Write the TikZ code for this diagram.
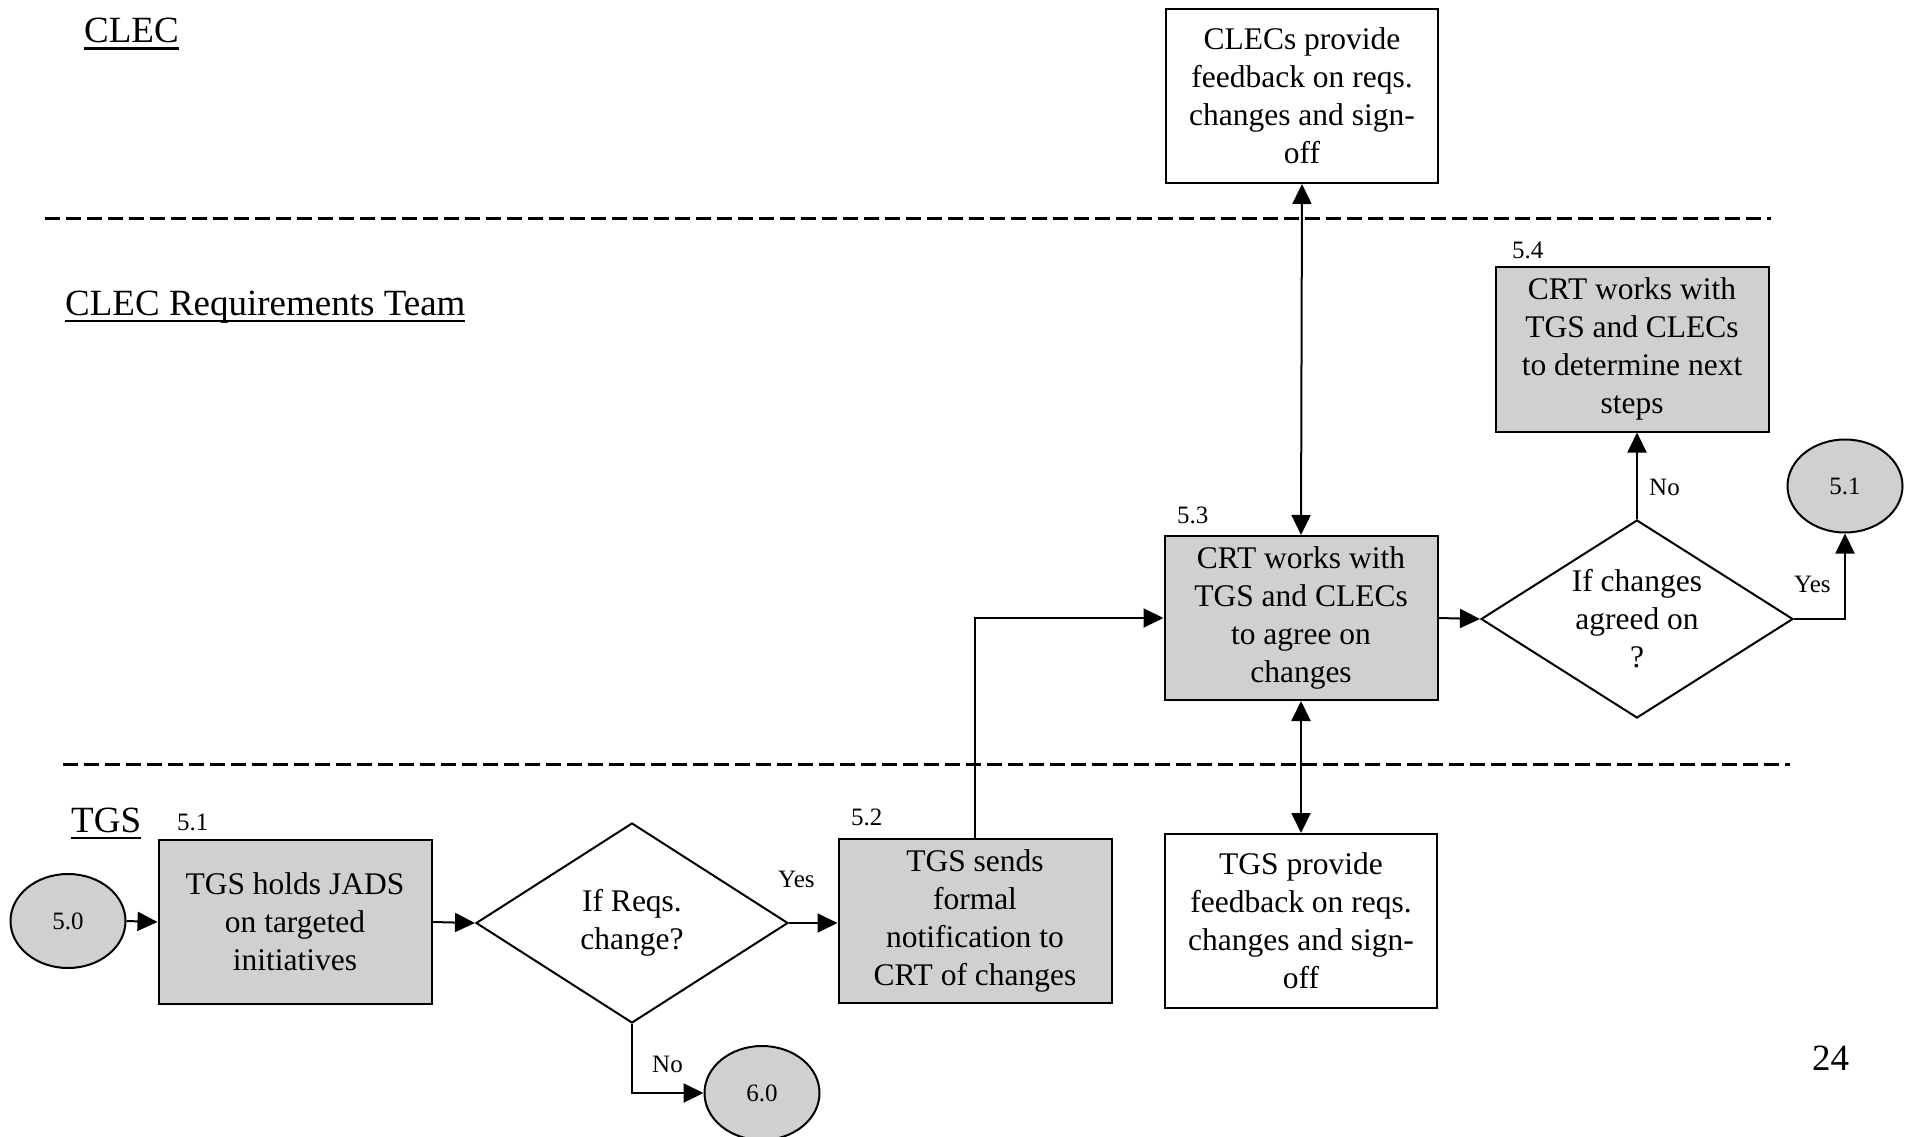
\documentclass[tikz,border=0pt]{standalone}
\usepackage{fontspec}
\setmainfont{Liberation Serif}
\usepackage{tikz}
\usetikzlibrary{shapes.geometric,arrows.meta}
\newcommand\lanetitle[1]{\setbox0\hbox{#1}\rlap{\rule[-7pt]{\wd0}{2.5pt}}\box0}
\definecolor{boxgray}{RGB}{208,208,208}
\tikzstyle{bag} = [align=center, inner sep=0pt, font=\fontsize{31.5}{38}\selectfont]
\tikzstyle{proc} = [bag, rectangle, draw, line width=2pt, fill=boxgray, minimum width=273pt, minimum height=164pt]
\tikzstyle{fbk} = [bag, rectangle, draw, line width=2pt, fill=white, minimum width=272pt, minimum height=174pt]
\tikzstyle{term} = [bag, ellipse, draw, line width=2pt, fill=boxgray, minimum width=115pt, minimum height=94pt, font=\fontsize{25}{30}\selectfont]
\tikzstyle{decide} = [diamond, draw, line width=2pt, minimum width=312pt, minimum height=200pt, inner sep=0pt]
\tikzstyle{num} = [anchor=base west, inner sep=0pt, font=\fontsize{25}{30}\selectfont]
\tikzstyle{lane} = [anchor=base west, inner sep=0pt, font=\fontsize{37}{44}\selectfont]
\tikzstyle{flow} = [line width=2pt, -{Triangle[length=20pt,width=19pt]}]
\tikzstyle{both} = [line width=2pt, {Triangle[length=20pt,width=19pt]}-{Triangle[length=20pt,width=19pt]}]

\begin{document}
\begin{tikzpicture}[x=1pt, y=-1pt]
  \useasboundingbox (0,0) rectangle (1909,1137);

  \draw[line width=3pt, dash pattern=on 15pt off 6pt] (45,218) -- (1771,218);
  \draw[line width=3pt, dash pattern=on 15pt off 6pt] (63,764) -- (1790,764);

  \node[lane] (clec) at (84,43) {\lanetitle{CLEC}};
  \node[lane] (crt) at (65,315) {\lanetitle{CLEC Requirements Team}};
  \node[lane] (tgs) at (71,832) {\lanetitle{TGS}};
  \node[lane] (page) at (1812,1070) {24};

  \node [term] (s50) at (68,921) {5.0};
  \node [proc] (p51) at (295,922) {TGS holds JADS \\ on targeted \\ initiatives};
  \node [num] (n51) at (177,830) {5.1};
  \node [decide, label={[bag]center:If Reqs. \\ change?}] (q1) at (632,923) {};
  \node [term] (s60) at (762,1093) {6.0};
  \node [proc] (p52) at (975,921) {TGS sends \\ formal \\ notification to \\ CRT of changes};
  \node [num] (n52) at (851,825) {5.2};
  \node [proc] (p53) at (1301,618) {CRT works with \\ TGS and CLECs \\ to agree on \\ changes};
  \node [num] (n53) at (1177,523) {5.3};
  \node [fbk] (fclec) at (1302,96) {CLECs provide \\ feedback on reqs. \\ changes and sign- \\ off};
  \node [fbk] (ftgs) at (1301,921) {TGS provide \\ feedback on reqs. \\ changes and sign- \\ off};
  \node [decide, minimum height=198pt, label={[bag]center:If changes \\ agreed on \\ ?}] (q2) at (1637,619) {};
  \node [proc, minimum height=165pt] (p54) at (1632,349) {CRT works with \\ TGS and CLECs \\ to determine next \\ steps};
  \node [num] (n54) at (1512,258) {5.4};
  \node [term, minimum height=93pt] (s51) at (1845,486) {5.1};

  \node [num] (yes1) at (778,887) {Yes};
  \node [num] (no1) at (652,1072) {No};
  \node [num] (yes2) at (1794,592) {Yes};
  \node [num] (no2) at (1649,495) {No};

  \draw[flow] (s50.east) -- (p51.west);
  \draw[flow] (p51.east) -- (q1.west);
  \draw[flow] (q1.east) -- (q1.east -| p52.west);
  \draw[flow] (q1.south) |- (s60.west);
  \draw[flow] (p52.north) |- (p53.west);
  \draw[flow] (p53.east) -- (q2.west);
  \draw[flow] (q2.east) -| (s51.south);
  \draw[flow] (q2.north) -- (q2.north |- p54.south);
  \draw[both] (fclec.south) -- (p53.north);
  \draw[both] (p53.south) -- (ftgs.north);
\end{tikzpicture}
\end{document}
